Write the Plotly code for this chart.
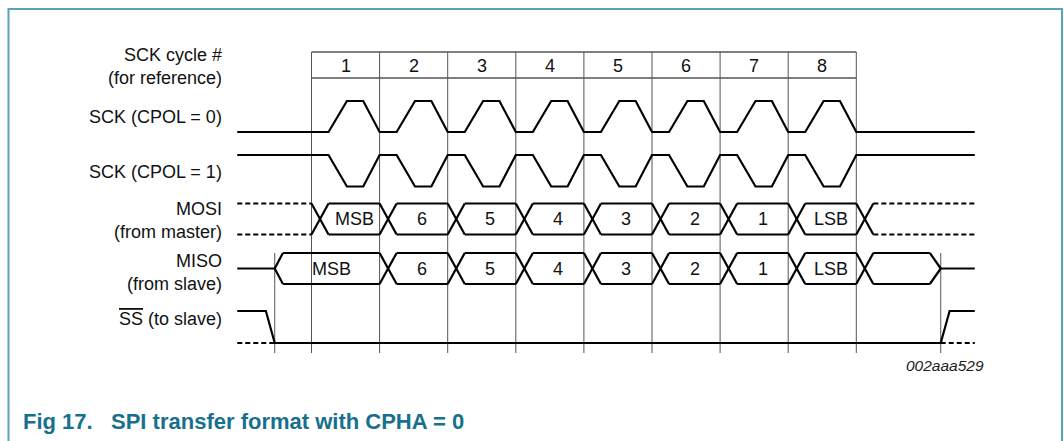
import plotly.graph_objects as go

# ---------------- data ----------------
cycle_numbers = [1, 2, 3, 4, 5, 6, 7, 8]
mosi_bits = ["MSB", "6", "5", "4", "3", "2", "1", "LSB"]
miso_bits = ["MSB", "6", "5", "4", "3", "2", "1", "LSB", ""]
row_labels = [
    "SCK cycle #<br>(for reference)",
    "SCK (CPOL = 0)",
    "SCK (CPOL = 1)",
    "MOSI<br>(from master)",
    "MISO<br>(from slave)",
    "<span style='text-decoration:overline'>SS</span> (to slave)",
]
sck_phase = [0.25, 0.52, 0.76, 1.0]   # rise start, rise end, fall start, fall end (in cycles)
bus_switch = 0.25                      # duration of a data transition (cycles)
ss_window = [-0.54, 9.24]              # SS active-low window (cycles, t=0 = start of cycle 1)
ss_slew = 0.13
miso_open, miso_close = 0.12, 0.16
lead_in, lead_out = -1.09, 9.74
fig_code = "002aaa529"
caption = "Fig 17.   SPI transfer format with CPHA = 0"

# ---------------- layout constants ----------------
W, H = 1064, 441
PX0, PXC = 311.5, 68.1          # pixel of t=0 and pixels per cycle
def t_of(px):
    return (px - PX0) / PXC

BOX_TOP, BOX_BOT, GRID_BOT = 52, 78, 353
CK0_IDLE, CK0_ACT = 132, 101
CK1_IDLE, CK1_ACT = 155, 186.5
MOSI_T, MOSI_B = 203.5, 234.5
MISO_T, MISO_B = 253, 284
SS_HI, SS_LO = 311, 343
FONT = "Arial, 'Liberation Sans', sans-serif"
SIG_W = 2.2

fig = go.Figure()

def add_line(xs, ys, width=SIG_W, color="#000000", dash=None):
    fig.add_trace(go.Scatter(x=xs, y=ys, mode="lines",
                             line=dict(color=color, width=width, dash=dash),
                             hoverinfo="skip", showlegend=False))

n = len(cycle_numbers)

# grid lines and cycle box
gx, gy = [], []
for k in range(n + 1):
    gx += [k, k, None]
    gy += [BOX_TOP, GRID_BOT, None]
for t in ss_window:
    gx += [t, t, None]
    gy += [MISO_T, GRID_BOT, None]
add_line(gx, gy, width=1, color="#555555")
add_line([0, n, None, 0, n], [BOX_TOP, BOX_TOP, None, BOX_BOT, BOX_BOT], width=1.4, color="#555555")

# SCK waveforms
def sck(idle, act):
    xs, ys = [lead_in], [idle]
    for k in range(n):
        for ph, lvl in zip(sck_phase, [idle, act, act, idle]):
            xs.append(k + ph)
            ys.append(lvl)
    xs.append(lead_out)
    ys.append(idle)
    return xs, ys

add_line(*sck(CK0_IDLE, CK0_ACT))
add_line(*sck(CK1_IDLE, CK1_ACT))

# MOSI bus
sx, sy = [], []
for k in range(n + 1):
    sx += [k, k + bus_switch, None, k, k + bus_switch, None]
    sy += [MOSI_T, MOSI_B, None, MOSI_B, MOSI_T, None]
for k in range(n):
    sx += [k + bus_switch, k + 1, None, k + bus_switch, k + 1, None]
    sy += [MOSI_T, MOSI_T, None, MOSI_B, MOSI_B, None]
add_line(sx, sy)
add_line([lead_in, 0, None, lead_in, 0, None, n + bus_switch, lead_out, None, n + bus_switch, lead_out],
         [MOSI_T, MOSI_T, None, MOSI_B, MOSI_B, None, MOSI_T, MOSI_T, None, MOSI_B, MOSI_B],
         dash="5px,3px")

# MISO bus
s, e = ss_window
mid = (MISO_T + MISO_B) / 2
mx, my = [lead_in, s, None, e, lead_out, None], [mid, mid, None, mid, mid, None]
mx += [s, s + miso_open, None, s, s + miso_open, None]
my += [mid, MISO_T, None, mid, MISO_B, None]
for k in range(1, n + 1):
    mx += [k, k + bus_switch, None, k, k + bus_switch, None]
    my += [MISO_T, MISO_B, None, MISO_B, MISO_T, None]
starts = [s + miso_open] + [k + bus_switch for k in range(1, n + 1)]
ends = list(range(1, n + 1)) + [e - miso_close]
for a, b in zip(starts, ends):
    mx += [a, b, None, a, b, None]
    my += [MISO_T, MISO_T, None, MISO_B, MISO_B, None]
mx += [e - miso_close, e, None, e - miso_close, e, None]
my += [MISO_T, mid, None, MISO_B, mid, None]
add_line(mx, my)

# SS
add_line([lead_in, s - ss_slew, s, e, e + ss_slew, lead_out],
         [SS_HI, SS_HI, SS_LO, SS_LO, SS_HI, SS_HI])
add_line([lead_in, s, None, e, lead_out], [SS_LO, SS_LO, None, SS_LO, SS_LO], dash="5px,3px")

# ---------------- text ----------------
ann = []
def text(x, y, t, size=18, xanchor="center", color="#111111", italic=False, xref="x"):
    ann.append(dict(x=x, y=y, xref=xref, yref="y", text=t, showarrow=False,
                    xanchor=xanchor, yanchor="middle", align="right" if xanchor == "right" else "center",
                    font=dict(family=FONT, size=size, color=color,
                              style="italic" if italic else "normal")))

for k, c in enumerate(cycle_numbers):
    text(k + 0.5, 65.5, str(c))

mosi_c = [k + bus_switch / 2 for k in range(n + 1)]
for i, b in enumerate(mosi_bits):
    text((mosi_c[i] + mosi_c[i + 1]) / 2, (MOSI_T + MOSI_B) / 2, b)

miso_c = [s] + [k + bus_switch / 2 for k in range(1, n + 1)] + [e]
for i, b in enumerate(miso_bits):
    if b:
        text((miso_c[i] + miso_c[i + 1]) / 2, mid, b)

label_x = t_of(224)
label_y = [66, 116.5, 171.5, 220.5, 272.5, 318.5]
for lbl, ly in zip(row_labels, label_y):
    text(label_x, ly, lbl, xanchor="right")

text(t_of(986), 365, fig_code, size=15.5, xanchor="right", color="#222222", italic=True)
text(t_of(21), 421, "<b>" + caption + "</b>", size=22, xanchor="left", color="#17708e")

# frame (top, left, right sides)
frame = dict(type="path", xref="paper", yref="paper",
             path=f"M {8.5/W} 0 L {8.5/W} {1-9/H} L {1062/W} {1-9/H} L {1062/W} 0",
             line=dict(color="#5aa3ba", width=2))

fig.update_layout(
    width=W, height=H, margin=dict(l=0, r=0, t=0, b=0),
    paper_bgcolor="white", plot_bgcolor="white",
    xaxis=dict(range=[t_of(0), t_of(W)], visible=False, fixedrange=True),
    yaxis=dict(range=[H, 0], visible=False, fixedrange=True),
    annotations=ann, shapes=[frame], showlegend=False,
)
fig.write_html("out.html", config={"displayModeBar": False},
               post_script="document.body.style.margin='0';document.body.style.overflow='hidden';")
